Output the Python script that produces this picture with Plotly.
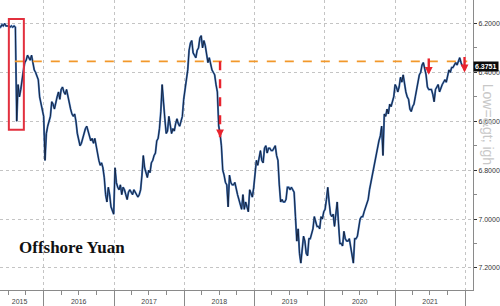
import pandas as pd
import plotly.graph_objects as go

# ---- data: weekly USD/CNH closes, 13 weeks per quarter, from 2015-04-03 ----
q2_2015 = [6.205, 6.21, 6.205, 6.20, 6.20, 6.205, 6.21, 6.215, 6.205, 6.21, 6.20, 6.21, 6.21]
q3_2015 = [6.21, 6.215, 6.21, 6.215, 6.21, 6.215, 6.60, 6.45, 6.50, 6.47, 6.42, 6.39, 6.36]
q4_2015 = [6.35, 6.33, 6.34, 6.35, 6.33, 6.37, 6.39, 6.40, 6.42, 6.43, 6.50, 6.53, 6.55]
q1_2016 = [6.58, 6.76, 6.65, 6.62, 6.60, 6.58, 6.52, 6.53, 6.55, 6.52, 6.50, 6.48, 6.51]
q2_2016 = [6.47, 6.46, 6.48, 6.49, 6.47, 6.50, 6.52, 6.55, 6.57, 6.58, 6.57, 6.60, 6.65]
q3_2016 = [6.67, 6.70, 6.69, 6.67, 6.64, 6.63, 6.62, 6.64, 6.67, 6.68, 6.67, 6.69, 6.67]
q4_2016 = [6.70, 6.74, 6.76, 6.78, 6.77, 6.79, 6.83, 6.90, 6.93, 6.87, 6.90, 6.95, 6.97]
q1_2017 = [6.98, 6.79, 6.85, 6.87, 6.88, 6.86, 6.90, 6.87, 6.88, 6.90, 6.92, 6.89, 6.88]
q2_2017 = [6.89, 6.90, 6.88, 6.89, 6.90, 6.91, 6.90, 6.88, 6.82, 6.74, 6.79, 6.81, 6.83]
q3_2017 = [6.80, 6.81, 6.77, 6.76, 6.74, 6.73, 6.68, 6.67, 6.63, 6.56, 6.45, 6.54, 6.59]
q4_2017 = [6.65, 6.64, 6.58, 6.62, 6.65, 6.63, 6.64, 6.61, 6.59, 6.61, 6.62, 6.60, 6.58]
q1_2018 = [6.51, 6.47, 6.42, 6.39, 6.31, 6.28, 6.27, 6.32, 6.33, 6.34, 6.31, 6.30, 6.26]
q2_2018 = [6.25, 6.30, 6.27, 6.29, 6.33, 6.36, 6.34, 6.37, 6.39, 6.40, 6.41, 6.45, 6.48]
q3_2018 = [6.62, 6.65, 6.70, 6.80, 6.82, 6.85, 6.86, 6.95, 6.82, 6.85, 6.86, 6.86, 6.85]
q4_2018 = [6.88, 6.90, 6.92, 6.94, 6.96, 6.90, 6.96, 6.93, 6.95, 6.97, 6.88, 6.90, 6.91]
q1_2019 = [6.87, 6.82, 6.76, 6.78, 6.75, 6.72, 6.76, 6.77, 6.71, 6.70, 6.73, 6.71, 6.71]
q2_2019 = [6.72, 6.72, 6.71, 6.70, 6.74, 6.76, 6.86, 6.93, 6.92, 6.93, 6.93, 6.92, 6.87]
q3_2019 = [6.87, 6.88, 6.87, 6.88, 6.89, 6.99, 7.09, 7.04, 7.14, 7.18, 7.12, 7.07, 7.09]
q4_2019 = [7.14, 7.15, 7.08, 7.08, 7.06, 7.04, 6.99, 7.01, 7.03, 7.03, 7.04, 6.99, 7.00]
q1_2020 = [6.97, 6.96, 6.92, 6.87, 6.93, 6.98, 6.99, 6.98, 7.03, 6.99, 6.93, 7.02, 7.10]
q2_2020 = [7.10, 7.11, 7.05, 7.08, 7.09, 7.09, 7.08, 7.12, 7.15, 7.18, 7.08, 7.08, 7.07]
q3_2020 = [7.03, 7.00, 6.99, 6.99, 6.97, 6.95, 6.93, 6.92, 6.88, 6.85, 6.82, 6.80, 6.77]
q4_2020 = [6.74, 6.70, 6.68, 6.66, 6.62, 6.74, 6.57, 6.58, 6.55, 6.57, 6.53, 6.54, 6.52]
q1_2021 = [6.50, 6.45, 6.46, 6.48, 6.46, 6.42, 6.44, 6.41, 6.45, 6.48, 6.50, 6.51, 6.55]
q2_2021 = [6.56, 6.54, 6.53, 6.50, 6.47, 6.44, 6.41, 6.40, 6.37, 6.36, 6.39, 6.41, 6.46]
q3_2021 = [6.47, 6.47, 6.47, 6.49, 6.52, 6.47, 6.46, 6.45, 6.48, 6.46, 6.45, 6.44, 6.43]
q4_2021 = [6.44, 6.41, 6.39, 6.40, 6.38, 6.38, 6.37, 6.36, 6.37, 6.35, 6.34, 6.36, 6.3751]

quarters = [q2_2015, q3_2015, q4_2015, q1_2016, q2_2016, q3_2016, q4_2016,
            q1_2017, q2_2017, q3_2017, q4_2017, q1_2018, q2_2018, q3_2018, q4_2018,
            q1_2019, q2_2019, q3_2019, q4_2019, q1_2020, q2_2020, q3_2020, q4_2020,
            q1_2021, q2_2021, q3_2021, q4_2021]
values = [v for q in quarters for v in q]
dates = pd.date_range("2015-04-03", periods=len(values), freq="7D")

last_value = 6.3751
resistance_level = 6.355

year_bounds = ["2016-01-01", "2017-01-01", "2018-01-01", "2019-01-01",
               "2020-01-01", "2021-01-01", "2022-01-01"]
year_labels = ["2015", "2016", "2017", "2018", "2019", "2020", "2021"]
year_label_dates = ["2015-08-29", "2016-07-01", "2017-07-02", "2018-07-02",
                    "2019-07-02", "2020-07-01", "2021-07-02"]
y_ticks = [6.2, 6.4, 6.6, 6.8, 7.0, 7.2]
y_minor = [6.3, 6.5, 6.7, 6.9, 7.1]

# arrows: (date, start level, tip level)
arrows = [("2018-07-06", 6.355, 6.665),
          ("2021-06-25", 6.343, 6.41),
          ("2021-12-28", 6.337, 6.40)]
box = ("2015-07-04", "2015-09-20", 6.182, 6.635)

x_range = ["2015-05-19", "2022-02-10"]
y_range = [7.29, 6.104]

fig = go.Figure()
fig.add_trace(go.Scatter(x=dates, y=values, mode="lines",
                         line=dict(color="#4a7cc0", width=2.0), hoverinfo="skip",
                         showlegend=False))
fig.add_trace(go.Scatter(x=dates, y=values, mode="lines",
                         line=dict(color="#111c33", width=0.9), showlegend=False))
# invisible trace for label axis
fig.add_trace(go.Scatter(x=[dates[0]], y=[values[0]], xaxis="x2", mode="markers",
                         marker=dict(opacity=0), showlegend=False, hoverinfo="skip"))

grid = "#c4c4c4"
axcol = "#8a8a8a"
fig.update_layout(
    width=500, height=306,
    margin=dict(l=0, r=24, t=0, b=16),
    paper_bgcolor="white", plot_bgcolor="white",
    font=dict(family="Liberation Sans, Arial", size=7, color="#333"),
    xaxis=dict(type="date", range=x_range, tickvals=year_bounds, showticklabels=False,
               ticks="outside", ticklen=16, tickcolor=axcol, tickwidth=1,
               showgrid=True, gridcolor=grid, griddash="dot", gridwidth=1,
               showline=True, linecolor=axcol, linewidth=1, zeroline=False,
               minor=dict(dtick="M3", tick0="2015-01-01", ticks="outside", ticklen=4,
                          tickcolor=axcol, showgrid=False)),
    xaxis2=dict(type="date", range=x_range, overlaying="x", side="bottom",
                tickvals=year_label_dates, ticktext=year_labels,
                ticks="outside", ticklen=5, tickcolor="rgba(0,0,0,0)",
                showgrid=False, showline=False, zeroline=False,
                tickfont=dict(size=7, color="#444")),
    yaxis=dict(range=y_range, side="right", tickvals=y_ticks, tickformat=".4f",
               ticks="outside", ticklen=3, tickcolor="#333",
               showgrid=True, gridcolor=grid, griddash="dot", gridwidth=1,
               showline=True, linecolor=axcol, linewidth=1, zeroline=False,
               tickfont=dict(size=7, color="#333"),
               minor=dict(tickvals=y_minor, ticks="outside", ticklen=3,
                          tickcolor=axcol, showgrid=False)),
)

# resistance line
fig.add_shape(type="line", xref="x", yref="y", x0="2015-08-04", x1="2022-01-11",
              y0=resistance_level, y1=resistance_level,
              line=dict(color="#f2982a", width=1.6, dash="dash"))

# red box
fig.add_shape(type="rect", xref="x", yref="y", x0=box[0], x1=box[1], y0=box[2], y1=box[3],
              line=dict(color="#e2303e", width=2))

# red dashed arrows
for d, y0, y1 in arrows:
    fig.add_shape(type="line", xref="x", yref="y", x0=d, x1=d, y0=y0, y1=y1,
                  line=dict(color="#e8232d", width=2.4, dash="dash"))
    fig.add_annotation(x=d, y=y1, xref="x", yref="y", ax=0, ay=-5, text="",
                       showarrow=True, arrowhead=2, arrowsize=0.65, arrowwidth=2.4,
                       arrowcolor="#e8232d")

# title
fig.add_annotation(x=17 / 476, y=7.118, xref="paper", yref="y", xanchor="left",
                   yanchor="middle", text="<b>Offshore Yuan</b>", showarrow=False,
                   font=dict(family="Liberation Serif, Times New Roman", size=17,
                             color="#111"))

# y-axis title (rotated)
fig.add_annotation(x=1 + 15 / 476, y=6.614, xref="paper", yref="y", xanchor="center",
                   yanchor="middle", text="Low=&amp;gt; igh", textangle=90,
                   showarrow=False,
                   font=dict(family="Liberation Sans, Arial", size=14, color="#c8c8c8"))

# last value tag
fig.add_annotation(x=1, y=last_value, xref="paper", yref="y", xanchor="left",
                   yanchor="middle", text="<b>%.4f</b>" % last_value, showarrow=False,
                   bgcolor="#0a0a0a", borderpad=1,
                   font=dict(family="Liberation Sans, Arial", size=7, color="white"))

fig.write_html("out.html")
